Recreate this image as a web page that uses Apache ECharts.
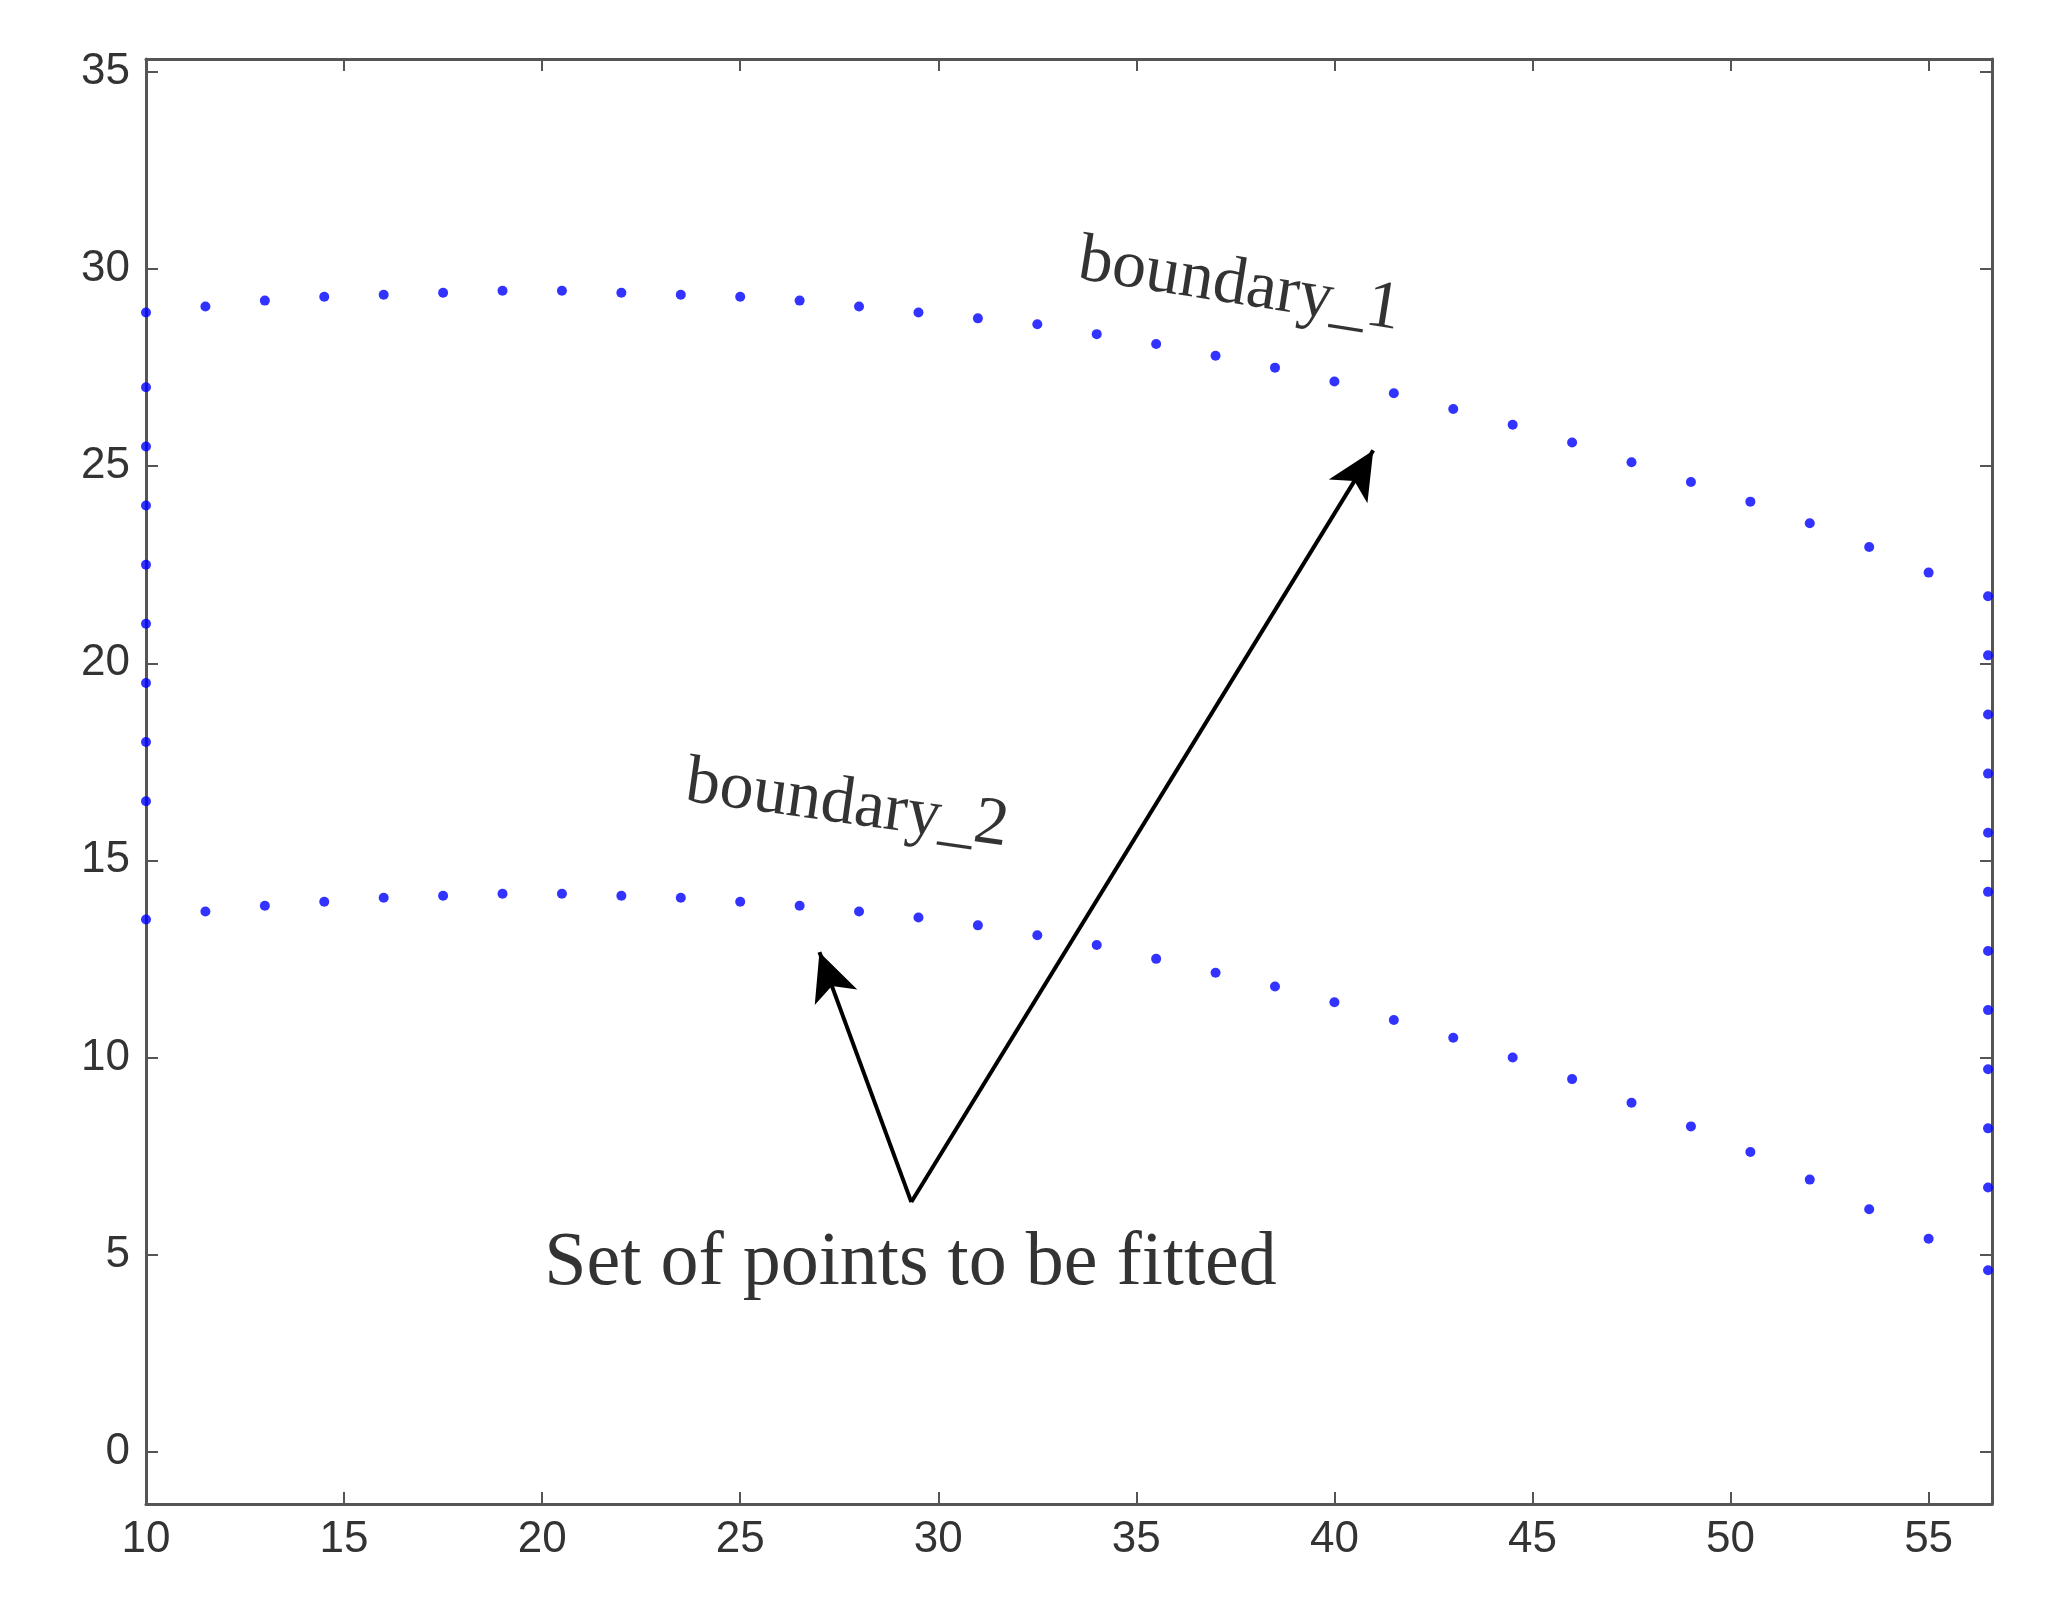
<!DOCTYPE html>
<html>
<head>
<meta charset="utf-8"/>
<script src="https://cdn.jsdelivr.net/npm/echarts@6/dist/echarts.min.js"></script>
</head>
<body style="margin:0;background:#fff">
<div id="chart" style="width:2049px;height:1610px"></div>
<script>
// boundary_1 (upper curve)
const b1X = [10, 11.5, 13, 14.5, 16, 17.5, 19, 20.5, 22, 23.5, 25, 26.5, 28, 29.5, 31, 32.5, 34, 35.5, 37, 38.5, 40, 41.5, 43, 44.5, 46, 47.5, 49, 50.5, 52, 53.5, 55];
const b1Y = [28.9, 29.05, 29.2, 29.3, 29.35, 29.4, 29.45, 29.45, 29.4, 29.35, 29.3, 29.2, 29.05, 28.9, 28.75, 28.6, 28.35, 28.1, 27.8, 27.5, 27.15, 26.85, 26.45, 26.05, 25.6, 25.1, 24.6, 24.1, 23.55, 22.95, 22.3];
// boundary_2 (lower curve)
const b2Y = [13.5, 13.7, 13.85, 13.95, 14.05, 14.1, 14.15, 14.15, 14.1, 14.05, 13.95, 13.85, 13.7, 13.55, 13.35, 13.1, 12.85, 12.5, 12.15, 11.8, 11.4, 10.95, 10.5, 10.0, 9.45, 8.85, 8.25, 7.6, 6.9, 6.15, 5.4];
// left and right edge points
const leftX = 10;
const leftY = [27, 25.5, 24, 22.5, 21, 19.5, 18, 16.5];
const rightX = 56.5;
const rightY = [21.7, 20.2, 18.7, 17.2, 15.7, 14.2, 12.7, 11.2, 9.7, 8.2, 6.7, 4.6];
const yTicks = [0, 5, 10, 15, 20, 25, 30, 35];

// annotation anchors (data units)
const arrowFrom = [29.32, 6.33];
const arrowTo1 = [40.98, 25.4];
const arrowTo2 = [27.0, 12.67];
const labels = [
  {name: 'boundary_1', coord: [37.6, 29.57], rotate: -9, size: 68},
  {name: 'boundary_2', coord: [27.7, 16.4], rotate: -8, size: 68},
  {name: 'Set of points to be fitted', coord: [29.3, 4.77], rotate: 0, size: 76}
];

const pts = [];
b1X.forEach((x, i) => { pts.push([x, b1Y[i]]); pts.push([x, b2Y[i]]); });
leftY.forEach(y => pts.push([leftX, y]));
rightY.forEach(y => pts.push([rightX, y]));

const lineCol = '#555';
const axisBase = {
  axisLine: {onZero: false, lineStyle: {color: lineCol, width: 3}},
  axisTick: {inside: true, length: 12, lineStyle: {color: lineCol, width: 2}},
  splitLine: {show: false}
};
const chart = echarts.init(document.getElementById('chart'));
chart.setOption({
  animation: false,
  grid: {left: 146, right: 57, top: 59, bottom: 106},
  xAxis: [
    Object.assign({type: 'value', min: 10, max: 56.6, interval: 5,
     axisLabel: {color: '#333', fontSize: 44, fontFamily: 'Liberation Sans', margin: 14,
                 showMaxLabel: false}}, axisBase),
    Object.assign({type: 'value', position: 'top', min: 10, max: 56.6, interval: 5,
     axisLabel: {show: false}}, axisBase)
  ],
  yAxis: [
    Object.assign({}, axisBase, {type: 'value', min: -1.33, max: 35.33,
     axisTick: {inside: true, length: 12, customValues: yTicks, lineStyle: {color: lineCol, width: 2}},
     axisLabel: {color: '#333', fontSize: 44, fontFamily: 'Liberation Sans', margin: 16, customValues: yTicks}}),
    Object.assign({}, axisBase, {type: 'value', position: 'right', min: -1.33, max: 35.33,
     axisTick: {inside: true, length: 12, customValues: yTicks, lineStyle: {color: lineCol, width: 2}},
     axisLabel: {show: false}})
  ],
  series: [{
    type: 'scatter', data: pts, symbolSize: 10,
    itemStyle: {color: '#0000ff'},
    markLine: {
      silent: true, symbol: ['none', 'arrow'], symbolSize: [34, 48],
      lineStyle: {color: '#000', width: 4, type: 'solid'},
      label: {show: false},
      data: [
        [{coord: arrowFrom}, {coord: arrowTo1}],
        [{coord: arrowFrom}, {coord: arrowTo2}]
      ]
    }
  }, {
    type: 'scatter', symbolSize: 1, silent: true,
    itemStyle: {color: 'rgba(0,0,0,0)'},
    data: labels.map(l => ({
      value: l.coord,
      label: {show: true, formatter: l.name, rotate: l.rotate, color: '#000',
              fontSize: l.size, fontFamily: 'Liberation Serif', position: 'inside'}
    }))
  }]
});
</script>
</body>
</html>
